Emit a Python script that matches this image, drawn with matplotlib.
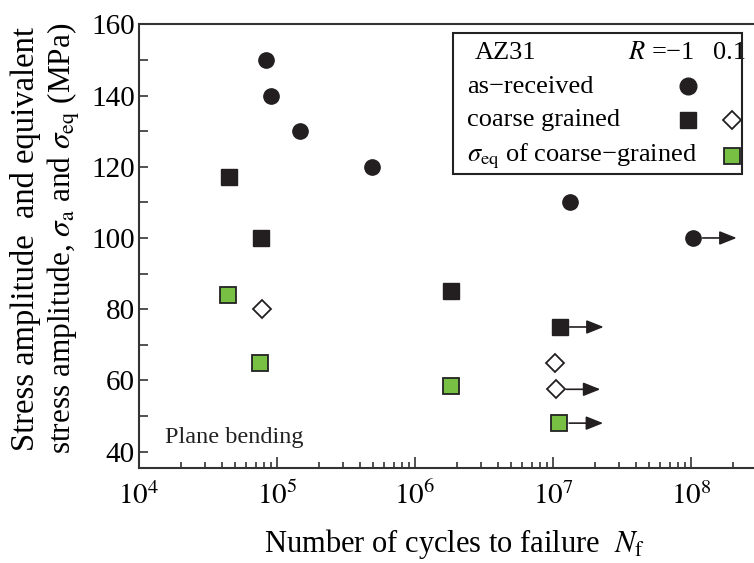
import numpy as np
import matplotlib.pyplot as plt
from matplotlib.patches import Rectangle

plt.rcParams['font.family'] = ['Liberation Serif', 'DejaVu Serif']
plt.rcParams['mathtext.fontset'] = 'stix'

# as-received, R = -1 (circles)
asrec_N = [8.3e4, 9.1e4, 1.47e5, 4.85e5, 1.33e7, 1.03e8]
asrec_S = [150, 140, 130, 120, 110, 100]
asrec_runout = [False, False, False, False, False, True]

# coarse grained, R = -1 (filled squares)
cg_N = [4.49e4, 7.66e4, 1.82e6, 1.12e7]
cg_S = [117, 100, 85, 75]
cg_runout = [False, False, False, True]

# coarse grained, R = 0.1 (open diamonds)
cg01_N = [7.74e4, 1.03e7, 1.06e7]
cg01_S = [80, 65, 57.5]
cg01_runout = [False, False, True]

# equivalent stress of coarse grained, R = 0.1 (green squares)
eq_N = [4.44e4, 7.53e4, 1.82e6, 1.11e7]
eq_S = [84, 65, 58.3, 48]
eq_runout = [False, False, False, True]

xticks = [1e4, 1e5, 1e6, 1e7, 1e8]
xticklabels = [r'$10^{4}$', r'$10^{5}$', r'$10^{6}$', r'$10^{7}$', r'$10^{8}$']
yticks = [40, 60, 80, 100, 120, 140, 160]

dark = '#231f20'
green = '#78c044'
W, H = 754, 563

fig = plt.figure(figsize=(W / 100, H / 100), dpi=100)
ax = fig.add_axes([139 / W, (H - 468) / H, 4.6 * 138 / W, (468 - 24.3) / H])
ax.set_xscale('log')

for s in ['left', 'bottom', 'top']:
    ax.spines[s].set_linewidth(1.5)
    ax.spines[s].set_color('#333333')
ax.spines['right'].set_visible(False)

ax.set_xticks(xticks)
ax.set_xticklabels(xticklabels, fontsize=21)
ax.set_xticks([m * 10 ** e for e in range(4, 9) for m in range(2, 10)], minor=True)
ax.set_yticks(yticks)
ax.set_yticks([50, 70, 90, 110, 130, 150], minor=True)
# limits after ticks, otherwise the minor ticks widen the x range
ax.set_xlim(1e4, 10 ** 8.6)
ax.set_ylim(35.4, 160)
ax.tick_params(axis='y', which='both', direction='in', length=6.5, width=1.2,
               color='#333333', labelsize=21, pad=3)
ax.tick_params(axis='x', which='major', direction='in', length=8, width=1.2,
               color='#333333', pad=10)
ax.tick_params(axis='x', which='minor', direction='in', length=4.5, width=1.2,
               color='#333333')
ax.tick_params(top=False, right=False, which='both')

# data points
ax.plot(asrec_N, asrec_S, 'o', ms=11, color=dark, mec=dark, ls='none', zorder=3)
ax.plot(cg_N, cg_S, 's', ms=12, color=dark, mec=dark, ls='none', zorder=3)
ax.plot(cg01_N, cg01_S, 'D', ms=9, mfc='white', mec=dark, mew=1.3, ls='none', zorder=3)
ax.plot(eq_N, eq_S, 's', ms=11.5, mfc=green, mec='#222222', mew=1.3, ls='none', zorder=3)

# run-out arrows
for Ns, Ss, flags in [(asrec_N, asrec_S, asrec_runout), (cg_N, cg_S, cg_runout),
                      (cg01_N, cg01_S, cg01_runout), (eq_N, eq_S, eq_runout)]:
    for n, s, f in zip(Ns, Ss, flags):
        if f:
            ax.annotate('', xy=(n * 2.08, s), xytext=(n * 1.18, s),
                        arrowprops=dict(arrowstyle='-|>,head_length=0.55,head_width=0.22',
                                        mutation_scale=19, lw=1.2, color=dark,
                                        shrinkA=0, shrinkB=0))

ax.text(165 / W, (H - 438) / H, 'Plane bending', transform=fig.transFigure,
        fontsize=17.5, ha='left', va='center', color='#222222')

# legend box drawn by hand
def fx(px):
    return px / W

def fy(py):
    return (H - py) / H

fig.patches.append(Rectangle((fx(453.3), fy(174)), fx(742.3) - fx(453.3), fy(33.3) - fy(174),
                             transform=fig.transFigure, fill=False, lw=1.5,
                             edgecolor='#222222', zorder=5))
fs = 19
fig.text(fx(475), fy(53.3), 'AZ31', fontsize=fs, va='center', ha='left')
fig.text(fx(628), fy(53.3), r'$R$ =−1', fontsize=fs, va='center', ha='left')
fig.text(fx(746), fy(53.3), '0.1', fontsize=fs, va='center', ha='right')
fig.text(fx(466.7), fy(86.7), 'as−received', fontsize=fs, va='center', ha='left')
fig.text(fx(466.7), fy(120), 'coarse grained', fontsize=fs, va='center', ha='left')
fig.text(fx(466.7), fy(156), r'$\sigma_{\rm eq}$ of coarse−grained', fontsize=fs,
         va='center', ha='left')
fig.lines.append(plt.Line2D([fx(688.3)], [fy(86)], marker='o', ms=12, color=dark,
                            transform=fig.transFigure))
fig.lines.append(plt.Line2D([fx(688.3)], [fy(120)], marker='s', ms=12, color=dark,
                            transform=fig.transFigure))
fig.lines.append(plt.Line2D([fx(731.7)], [fy(120)], marker='D', ms=9, mfc='white',
                            mec=dark, mew=1.3, transform=fig.transFigure))
fig.lines.append(plt.Line2D([fx(731.7)], [fy(156)], marker='s', ms=11.5, mfc=green,
                            mec='#222222', mew=1.3, transform=fig.transFigure))

# axis labels
fig.text(fx(26), fy(239), 'Stress amplitude  and equivalent', rotation=90,
         fontsize=23.5, ha='center', va='center')
fig.text(fx(64), fy(238), r'stress amplitude, $\sigma_{\rm a}$ and $\sigma_{\rm eq}$ (MPa)',
         rotation=90, fontsize=22.5, ha='center', va='center')
fig.text(fx(455), fy(544), r'Number of cycles to failure  $N_{\rm f}$',
         fontsize=22, ha='center', va='center')

fig.savefig('out.png', dpi=100)
